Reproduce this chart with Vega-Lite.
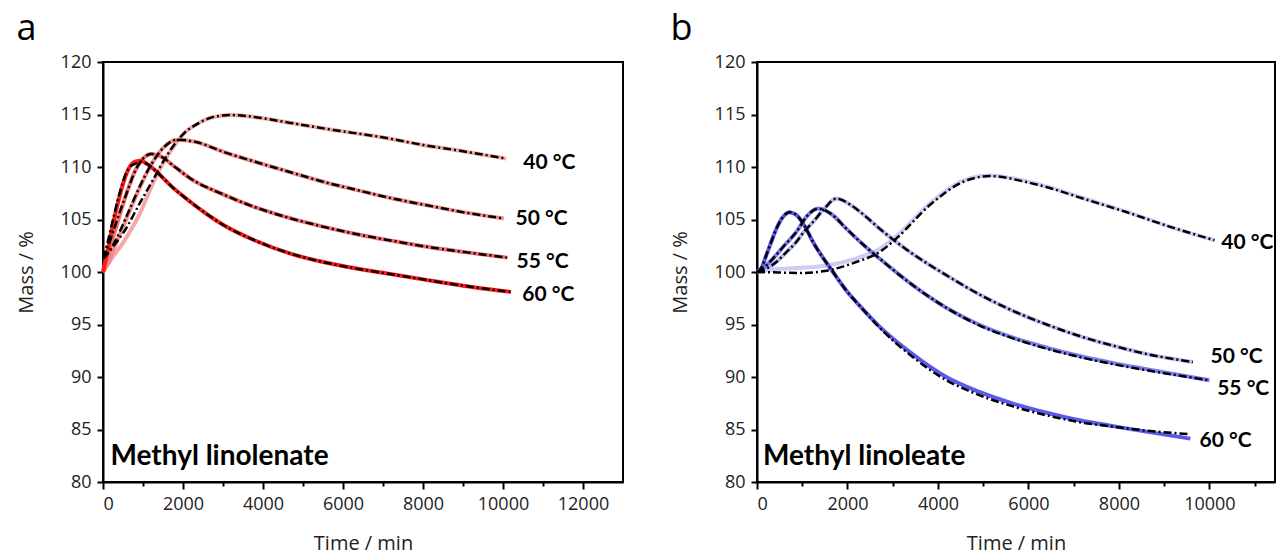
{
  "$schema": "https://vega.github.io/schema/vega-lite/v6.json",
  "padding": {"left": 15, "top": 10, "right": 0, "bottom": 0},
  "background": "white",
  "config": {
    "view": {"stroke": "black", "strokeWidth": 2},
    "axis": {
      "grid": false, "domainColor": "black", "domainWidth": 2, "tickColor": "black", "tickWidth": 2
    },
    "title": {"font": "Open Sans", "fontSize": 36, "fontWeight": "normal", "anchor": "start", "frame": "bounds", "color": "black"}
  },
  "datasets": {
    "curves": [
      {"p":"a","s":"40","t":0,"e":100,"f":101.3},
      {"p":"a","s":"40","t":200,"e":101.2,"f":102.2},
      {"p":"a","s":"40","t":520,"e":102.9,"f":103.8},
      {"p":"a","s":"40","t":937,"e":105.7,"f":106.67},
      {"p":"a","s":"40","t":1150,"e":107.6,"f":108.1},
      {"p":"a","s":"40","t":1355,"e":109.3,"f":109.5},
      {"p":"a","s":"40","t":1550,"e":110.7,"f":110.8},
      {"p":"a","s":"40","t":1775,"e":112.0,"f":112.1},
      {"p":"a","s":"40","t":2050,"e":113.3,"f":113.3},
      {"p":"a","s":"40","t":2355,"e":114.1,"f":114.1},
      {"p":"a","s":"40","t":2700,"e":114.7,"f":114.7},
      {"p":"a","s":"40","t":3187,"e":114.95,"f":114.95},
      {"p":"a","s":"40","t":3700,"e":114.8,"f":114.8},
      {"p":"a","s":"40","t":4687,"e":114.2,"f":114.2},
      {"p":"a","s":"40","t":5800,"e":113.5,"f":113.5},
      {"p":"a","s":"40","t":6937,"e":112.86,"f":112.86},
      {"p":"a","s":"40","t":8000,"e":112.1,"f":112.1},
      {"p":"a","s":"40","t":9000,"e":111.5,"f":111.5},
      {"p":"a","s":"40","t":10080,"e":110.8,"f":110.8},

      {"p":"a","s":"50","t":0,"e":100,"f":101.3},
      {"p":"a","s":"50","t":150,"e":101,"f":101.9},
      {"p":"a","s":"50","t":300,"e":102.5,"f":102.9},
      {"p":"a","s":"50","t":600,"e":105.2,"f":105.4},
      {"p":"a","s":"50","t":900,"e":107.9,"f":108.0},
      {"p":"a","s":"50","t":1200,"e":110.2,"f":110.2},
      {"p":"a","s":"50","t":1500,"e":111.8,"f":111.8},
      {"p":"a","s":"50","t":1855,"e":112.6,"f":112.6},
      {"p":"a","s":"50","t":2300,"e":112.4,"f":112.4},
      {"p":"a","s":"50","t":3020,"e":111.43,"f":111.43},
      {"p":"a","s":"50","t":3800,"e":110.5,"f":110.5},
      {"p":"a","s":"50","t":4687,"e":109.5,"f":109.5},
      {"p":"a","s":"50","t":5500,"e":108.6,"f":108.6},
      {"p":"a","s":"50","t":6355,"e":107.8,"f":107.8},
      {"p":"a","s":"50","t":7187,"e":107.05,"f":107.05},
      {"p":"a","s":"50","t":8100,"e":106.35,"f":106.35},
      {"p":"a","s":"50","t":9000,"e":105.7,"f":105.7},
      {"p":"a","s":"50","t":10020,"e":105.1,"f":105.1},

      {"p":"a","s":"55","t":0,"e":100,"f":101.3},
      {"p":"a","s":"55","t":100,"e":101.3,"f":102.2},
      {"p":"a","s":"55","t":250,"e":103.3,"f":103.8},
      {"p":"a","s":"55","t":400,"e":105.2,"f":105.5},
      {"p":"a","s":"55","t":600,"e":107.6,"f":107.6},
      {"p":"a","s":"55","t":800,"e":109.6,"f":109.6},
      {"p":"a","s":"55","t":1000,"e":110.8,"f":110.8},
      {"p":"a","s":"55","t":1200,"e":111.25,"f":111.25},
      {"p":"a","s":"55","t":1450,"e":111.0,"f":111.0},
      {"p":"a","s":"55","t":1800,"e":110.0,"f":110.0},
      {"p":"a","s":"55","t":2187,"e":108.9,"f":108.9},
      {"p":"a","s":"55","t":3000,"e":107.4,"f":107.4},
      {"p":"a","s":"55","t":3855,"e":106.1,"f":106.1},
      {"p":"a","s":"55","t":4700,"e":105.1,"f":105.1},
      {"p":"a","s":"55","t":5520,"e":104.3,"f":104.3},
      {"p":"a","s":"55","t":6350,"e":103.6,"f":103.6},
      {"p":"a","s":"55","t":7187,"e":103.0,"f":103.0},
      {"p":"a","s":"55","t":8100,"e":102.4,"f":102.4},
      {"p":"a","s":"55","t":9100,"e":101.87,"f":101.87},
      {"p":"a","s":"55","t":10105,"e":101.37,"f":101.37},

      {"p":"a","s":"60","t":0,"e":100,"f":101.3},
      {"p":"a","s":"60","t":100,"e":101.8,"f":102.6},
      {"p":"a","s":"60","t":200,"e":103.6,"f":104.2},
      {"p":"a","s":"60","t":300,"e":105.4,"f":105.8},
      {"p":"a","s":"60","t":400,"e":107,"f":107.3},
      {"p":"a","s":"60","t":500,"e":108.4,"f":108.6},
      {"p":"a","s":"60","t":600,"e":109.5,"f":109.6},
      {"p":"a","s":"60","t":700,"e":110.2,"f":110.1},
      {"p":"a","s":"60","t":800,"e":110.5,"f":110.3},
      {"p":"a","s":"60","t":950,"e":110.6,"f":110.5},
      {"p":"a","s":"60","t":1100,"e":110.3,"f":110.3},
      {"p":"a","s":"60","t":1355,"e":109.5,"f":109.5},
      {"p":"a","s":"60","t":1700,"e":108.2,"f":108.2},
      {"p":"a","s":"60","t":2187,"e":106.67,"f":106.67},
      {"p":"a","s":"60","t":2600,"e":105.5,"f":105.5},
      {"p":"a","s":"60","t":3020,"e":104.45,"f":104.45},
      {"p":"a","s":"60","t":3800,"e":103.0,"f":103.0},
      {"p":"a","s":"60","t":4687,"e":101.75,"f":101.75},
      {"p":"a","s":"60","t":5500,"e":100.95,"f":100.95},
      {"p":"a","s":"60","t":6300,"e":100.35,"f":100.35},
      {"p":"a","s":"60","t":7187,"e":99.8,"f":99.8},
      {"p":"a","s":"60","t":8000,"e":99.3,"f":99.3},
      {"p":"a","s":"60","t":9000,"e":98.7,"f":98.7},
      {"p":"a","s":"60","t":10200,"e":98.1,"f":98.1},

      {"p":"b","s":"40","t":0,"e":100,"f":100},
      {"p":"b","s":"40","t":500,"e":100.3,"f":99.95},
      {"p":"b","s":"40","t":1000,"e":100.4,"f":99.9},
      {"p":"b","s":"40","t":1500,"e":100.6,"f":100.1},
      {"p":"b","s":"40","t":2195,"e":101.3,"f":100.95},
      {"p":"b","s":"40","t":2709,"e":102.2,"f":101.9},
      {"p":"b","s":"40","t":3078,"e":103.4,"f":103.18},
      {"p":"b","s":"40","t":3814,"e":106.5,"f":106.35},
      {"p":"b","s":"40","t":4552,"e":108.7,"f":108.57},
      {"p":"b","s":"40","t":5140,"e":109.2,"f":109.14},
      {"p":"b","s":"40","t":5951,"e":108.65,"f":108.57},
      {"p":"b","s":"40","t":6393,"e":108.15,"f":108.1},
      {"p":"b","s":"40","t":7200,"e":107.05,"f":107.0},
      {"p":"b","s":"40","t":8162,"e":105.75,"f":105.71},
      {"p":"b","s":"40","t":9100,"e":104.35,"f":104.35},
      {"p":"b","s":"40","t":10113,"e":103.02,"f":103.02},

      {"p":"b","s":"50","t":0,"e":100,"f":100},
      {"p":"b","s":"50","t":200,"e":100.3,"f":100.3},
      {"p":"b","s":"50","t":427,"e":100.95,"f":100.95},
      {"p":"b","s":"50","t":650,"e":101.9,"f":101.9},
      {"p":"b","s":"50","t":868,"e":102.86,"f":102.86},
      {"p":"b","s":"50","t":1050,"e":103.9,"f":103.9},
      {"p":"b","s":"50","t":1238,"e":104.76,"f":104.76},
      {"p":"b","s":"50","t":1500,"e":106.1,"f":106.1},
      {"p":"b","s":"50","t":1753,"e":106.99,"f":106.99},
      {"p":"b","s":"50","t":2100,"e":106.3,"f":106.3},
      {"p":"b","s":"50","t":2400,"e":105.3,"f":105.3},
      {"p":"b","s":"50","t":2709,"e":104.13,"f":104.13},
      {"p":"b","s":"50","t":3400,"e":101.85,"f":101.85},
      {"p":"b","s":"50","t":4183,"e":99.7,"f":99.7},
      {"p":"b","s":"50","t":4900,"e":97.9,"f":97.9},
      {"p":"b","s":"50","t":5657,"e":96.3,"f":96.3},
      {"p":"b","s":"50","t":6400,"e":95.0,"f":95.0},
      {"p":"b","s":"50","t":7129,"e":93.9,"f":93.9},
      {"p":"b","s":"50","t":7900,"e":92.95,"f":92.95},
      {"p":"b","s":"50","t":8603,"e":92.2,"f":92.2},
      {"p":"b","s":"50","t":9635,"e":91.43,"f":91.43},

      {"p":"b","s":"55","t":0,"e":100,"f":100},
      {"p":"b","s":"55","t":150,"e":100.4,"f":100.4},
      {"p":"b","s":"55","t":354,"e":101.28,"f":101.28},
      {"p":"b","s":"55","t":600,"e":102.5,"f":102.5},
      {"p":"b","s":"55","t":868,"e":103.8,"f":103.8},
      {"p":"b","s":"55","t":1100,"e":105.3,"f":105.3},
      {"p":"b","s":"55","t":1348,"e":106.04,"f":106.04},
      {"p":"b","s":"55","t":1650,"e":105.5,"f":105.5},
      {"p":"b","s":"55","t":1973,"e":104.13,"f":104.13},
      {"p":"b","s":"55","t":2350,"e":102.6,"f":102.6},
      {"p":"b","s":"55","t":2709,"e":101.28,"f":101.28},
      {"p":"b","s":"55","t":3447,"e":98.73,"f":98.73},
      {"p":"b","s":"55","t":4183,"e":96.6,"f":96.6},
      {"p":"b","s":"55","t":4900,"e":95.0,"f":94.95},
      {"p":"b","s":"55","t":5657,"e":93.75,"f":93.68},
      {"p":"b","s":"55","t":6400,"e":92.8,"f":92.7},
      {"p":"b","s":"55","t":7129,"e":92.0,"f":91.9},
      {"p":"b","s":"55","t":7900,"e":91.3,"f":91.2},
      {"p":"b","s":"55","t":8603,"e":90.75,"f":90.65},
      {"p":"b","s":"55","t":10002,"e":89.69,"f":89.69},

      {"p":"b","s":"60","t":0,"e":100,"f":100},
      {"p":"b","s":"60","t":100,"e":100.4,"f":100.4},
      {"p":"b","s":"60","t":205,"e":101.6,"f":101.6},
      {"p":"b","s":"60","t":300,"e":102.7,"f":102.7},
      {"p":"b","s":"60","t":427,"e":104.1,"f":104.1},
      {"p":"b","s":"60","t":550,"e":105.1,"f":105.1},
      {"p":"b","s":"60","t":720,"e":105.7,"f":105.7},
      {"p":"b","s":"60","t":880,"e":105.4,"f":105.4},
      {"p":"b","s":"60","t":1050,"e":104.4,"f":104.4},
      {"p":"b","s":"60","t":1238,"e":102.86,"f":102.86},
      {"p":"b","s":"60","t":1680,"e":100.0,"f":100.0},
      {"p":"b","s":"60","t":2000,"e":98.1,"f":98.1},
      {"p":"b","s":"60","t":2267,"e":96.8,"f":96.8},
      {"p":"b","s":"60","t":2709,"e":94.8,"f":94.7},
      {"p":"b","s":"60","t":3400,"e":92.3,"f":92.05},
      {"p":"b","s":"60","t":4183,"e":90.0,"f":89.7},
      {"p":"b","s":"60","t":4900,"e":88.6,"f":88.3},
      {"p":"b","s":"60","t":5657,"e":87.47,"f":87.2},
      {"p":"b","s":"60","t":6400,"e":86.6,"f":86.35},
      {"p":"b","s":"60","t":7129,"e":85.88,"f":85.7},
      {"p":"b","s":"60","t":7900,"e":85.3,"f":85.25},
      {"p":"b","s":"60","t":8603,"e":84.8,"f":84.9},
      {"p":"b","s":"60","t":9580,"e":84.13,"f":84.55}
    ],
    "labels": [
      {"p":"a","t":10505,"m":110.42,"text":"40 °C"},
      {"p":"a","t":10312,"m":105.02,"text":"50 °C"},
      {"p":"a","t":10337,"m":100.95,"text":"55 °C"},
      {"p":"a","t":10480,"m":97.78,"text":"60 °C"},
      {"p":"b","t":10261,"m":102.8,"text":"40 °C"},
      {"p":"b","t":10024,"m":91.9,"text":"50 °C"},
      {"p":"b","t":10172,"m":88.9,"text":"55 °C"},
      {"p":"b","t":9781,"m":83.88,"text":"60 °C"}
    ],
    "names": [
      {"p":"a","t":187,"m":81.59,"text":"Methyl linolenate"},
      {"p":"b","t":133,"m":81.59,"text":"Methyl linoleate"}
    ]
  },
  "resolve": {"scale": {"color": "independent", "x": "independent", "y": "independent"}},
  "spacing": 45,
  "hconcat": [
    {
      "title": {"text": "a", "baseline": "alphabetic", "offset": -23},
      "width": 520,
      "height": 420,
      "resolve": {"axis": {"x": "independent"}},
      "layer": [
        {
          "data": {"name": "curves"},
          "transform": [{"filter": "datum.p == 'a'"}],
          "mark": {"type": "line", "strokeWidth": 4, "interpolate": "monotone"},
          "encoding": {
            "x": {"field": "t", "type": "quantitative", "scale": {"domain": [0, 13000], "nice": false},
                  "axis": {"values": [0,2000,4000,6000,8000,10000,12000], "format": "d", "tickSize": 7, "labelPadding": 6,
                           "labelFont": "Open Sans", "labelFontSize": 18, "labelColor": "#222",
                           "title": "Time / min", "titleFont": "Open Sans", "titleFontSize": 20, "titleFontWeight": "normal", "titleColor": "#222", "titlePadding": 20}},
            "y": {"field": "e", "type": "quantitative", "scale": {"domain": [80, 120], "nice": false, "zero": false},
                  "axis": {"values": [80,85,90,95,100,105,110,115,120], "tickSize": 6, "labelPadding": 6,
                           "labelFont": "Open Sans", "labelFontSize": 18, "labelColor": "#222",
                           "title": "Mass / %", "titleFont": "Open Sans", "titleFontSize": 20, "titleFontWeight": "normal", "titleColor": "#222", "titlePadding": 23.5}},
            "color": {"field": "s", "type": "nominal", "legend": null,
                      "scale": {"domain": ["40","50","55","60"], "range": ["#f6a8a8","#f38c8c","#f26d6d","#ff1a1a"]}}
          }
        },
        {
          "data": {"name": "curves"},
          "transform": [{"filter": "datum.p == 'a'"}],
          "mark": {"type": "line", "strokeWidth": 2.5, "color": "black", "strokeDash": [8, 3, 2, 3], "interpolate": "monotone"},
          "encoding": {
            "x": {"field": "t", "type": "quantitative", "axis": null},
            "y": {"field": "f", "type": "quantitative"},
            "detail": {"field": "s"}
          }
        },
        {
          "data": {"name": "labels"},
          "transform": [{"filter": "datum.p == 'a'"}],
          "mark": {"type": "text", "align": "left", "baseline": "middle", "font": "Lato", "fontWeight": "bold", "fontSize": 21, "color": "black"},
          "encoding": {
            "x": {"field": "t", "type": "quantitative",
                  "axis": {"orient": "bottom", "values": [1000,3000,5000,7000,9000,11000], "labels": false, "tickSize": 4, "domain": false, "title": null}},
            "y": {"field": "m", "type": "quantitative"},
            "text": {"field": "text"}
          }
        },
        {
          "data": {"name": "names"},
          "transform": [{"filter": "datum.p == 'a'"}],
          "mark": {"type": "text", "align": "left", "baseline": "alphabetic", "font": "Lato", "fontWeight": "bold", "fontSize": 28, "color": "black"},
          "encoding": {
            "x": {"field": "t", "type": "quantitative", "axis": null},
            "y": {"field": "m", "type": "quantitative"},
            "text": {"field": "text"}
          }
        }
      ]
    },
    {
      "title": {"text": "b", "baseline": "alphabetic", "offset": -23},
      "width": 518,
      "height": 420,
      "resolve": {"axis": {"x": "independent"}},
      "layer": [
        {
          "data": {"name": "curves"},
          "transform": [{"filter": "datum.p == 'b'"}],
          "mark": {"type": "line", "strokeWidth": 4, "interpolate": "monotone"},
          "encoding": {
            "x": {"field": "t", "type": "quantitative", "scale": {"domain": [0, 11450], "nice": false},
                  "axis": {"values": [0,2000,4000,6000,8000,10000], "format": "d", "tickSize": 7, "labelPadding": 6,
                           "labelFont": "Open Sans", "labelFontSize": 18, "labelColor": "#222",
                           "title": "Time / min", "titleFont": "Open Sans", "titleFontSize": 20, "titleFontWeight": "normal", "titleColor": "#222", "titlePadding": 20}},
            "y": {"field": "e", "type": "quantitative", "scale": {"domain": [80, 120], "nice": false, "zero": false},
                  "axis": {"values": [80,85,90,95,100,105,110,115,120], "tickSize": 6, "labelPadding": 6,
                           "labelFont": "Open Sans", "labelFontSize": 18, "labelColor": "#222",
                           "title": "Mass / %", "titleFont": "Open Sans", "titleFontSize": 20, "titleFontWeight": "normal", "titleColor": "#222", "titlePadding": 23.5}},
            "color": {"field": "s", "type": "nominal", "legend": null,
                      "scale": {"domain": ["40","50","55","60"], "range": ["#ccccf4","#b6b6f2","#7c7cf0","#5a5aec"]}}
          }
        },
        {
          "data": {"name": "curves"},
          "transform": [{"filter": "datum.p == 'b'"}],
          "mark": {"type": "line", "strokeWidth": 2.5, "color": "black", "strokeDash": [8, 3, 2, 3], "interpolate": "monotone"},
          "encoding": {
            "x": {"field": "t", "type": "quantitative", "axis": null},
            "y": {"field": "f", "type": "quantitative"},
            "detail": {"field": "s"}
          }
        },
        {
          "data": {"name": "labels"},
          "transform": [{"filter": "datum.p == 'b'"}],
          "mark": {"type": "text", "align": "left", "baseline": "middle", "font": "Lato", "fontWeight": "bold", "fontSize": 21, "color": "black"},
          "encoding": {
            "x": {"field": "t", "type": "quantitative",
                  "axis": {"orient": "bottom", "values": [1000,3000,5000,7000,9000,11000], "labels": false, "tickSize": 4, "domain": false, "title": null}},
            "y": {"field": "m", "type": "quantitative"},
            "text": {"field": "text"}
          }
        },
        {
          "data": {"name": "names"},
          "transform": [{"filter": "datum.p == 'b'"}],
          "mark": {"type": "text", "align": "left", "baseline": "alphabetic", "font": "Lato", "fontWeight": "bold", "fontSize": 28, "color": "black"},
          "encoding": {
            "x": {"field": "t", "type": "quantitative", "axis": null},
            "y": {"field": "m", "type": "quantitative"},
            "text": {"field": "text"}
          }
        }
      ]
    }
  ]
}
